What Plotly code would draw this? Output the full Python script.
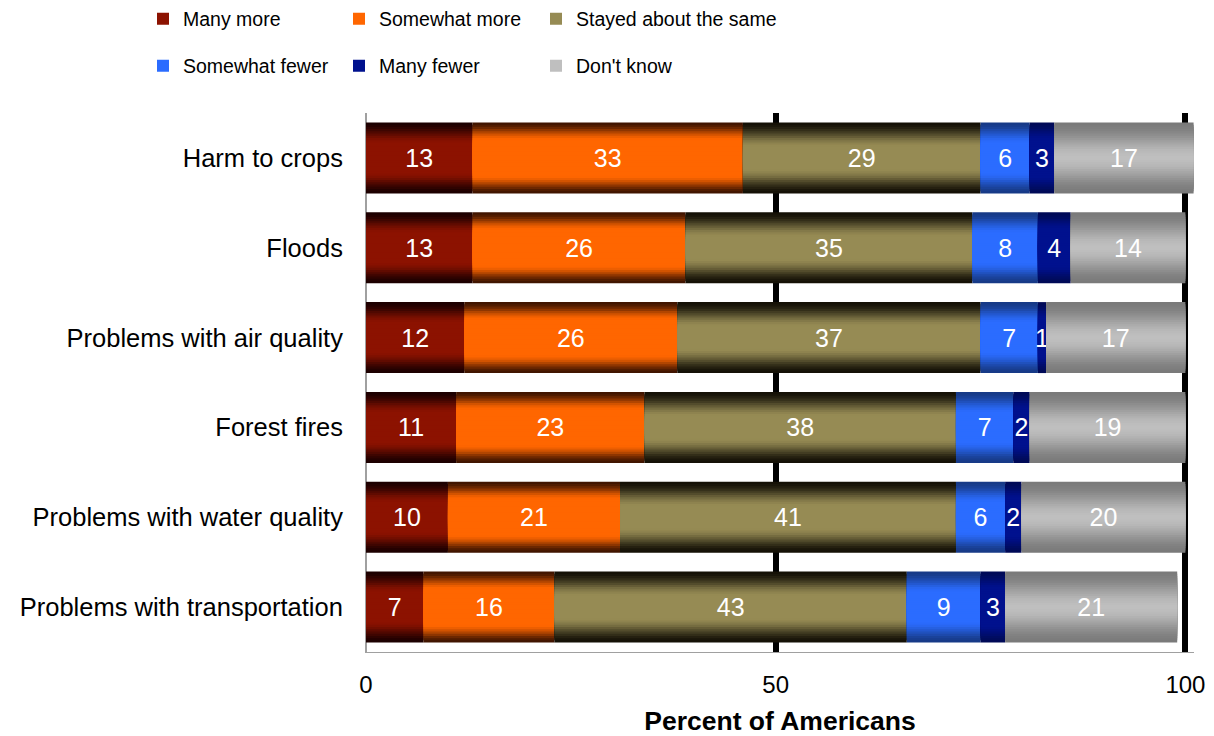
import plotly.graph_objects as go

# ---------------- data ----------------
categories = [
    "Harm to crops",
    "Floods",
    "Problems with air quality",
    "Forest fires",
    "Problems with water quality",
    "Problems with transportation",
]
series_names = [
    "Many more",
    "Somewhat more",
    "Stayed about the same",
    "Somewhat fewer",
    "Many fewer",
    "Don't know",
]
many_more = [13, 13, 12, 11, 10, 7]
somewhat_more = [33, 26, 26, 23, 21, 16]
stayed_same = [29, 35, 37, 38, 41, 43]
somewhat_fewer = [6, 8, 7, 7, 6, 9]
many_fewer = [3, 4, 1, 2, 2, 3]
dont_know = [17, 14, 17, 19, 20, 21]
x_ticks = [0, 50, 100]
x_title = "Percent of Americans"

series_values = [many_more, somewhat_more, stayed_same,
                 somewhat_fewer, many_fewer, dont_know]

# ---------------- styles ----------------
MID = ["#8c1200", "#ff6600", "#968b54", "#2b6cff", "#00118e", "#bfbfbf"]
EDGE = ["#1c0000", "#3f1400", "#141006", "#173a86", "#000a56", "#7a7a7a"]
SPAN = [0.6, 0.5, 0.7, 0.6, 0.5, 1.0]
N_LAYERS = 16
BAR_W = 0.79
FONT = "Liberation Sans, Arial, sans-serif"
# the page body adds an 8px offset, so the figure is 8px smaller
W_PX, H_PX = 1206, 728
LEG_X = [135, 331, 528]      # legend column positions (px, figure coords)
LEG_Y = [11, 58]             # legend row centres (px, figure coords)


def hex2rgb(h):
    h = h.lstrip("#")
    return [int(h[i:i + 2], 16) for i in (0, 2, 4)]


def lerp(c1, c2, t):
    a, b = hex2rgb(c1), hex2rgb(c2)
    return "rgb({},{},{})".format(*[round(a[i] + (b[i] - a[i]) * t) for i in range(3)])


def legend_id(i):
    return "legend" if i == 0 else "legend{}".format(i + 1)


fig = go.Figure()
cum = [0] * len(categories)
for s, (name, vals) in enumerate(zip(series_names, series_values)):
    base = cum[:]
    # gradient built from stacked layers of shrinking thickness
    for k in range(N_LAYERS):
        d = (k + 0.5) / N_LAYERS
        t = min(1.0, d / SPAN[s])
        t = t * t * (3 - 2 * t)
        fig.add_trace(go.Bar(
            y=categories, x=vals, base=base, orientation="h",
            width=BAR_W * (1 - k / N_LAYERS),
            marker=dict(color=lerp(EDGE[s], MID[s], t), line=dict(width=0)),
            name=name, legend=legend_id(s), showlegend=(k == N_LAYERS - 1),
            hoverinfo="skip", cliponaxis=False,
        ))
    # value labels
    fig.add_trace(go.Bar(
        y=categories, x=vals, base=base, orientation="h", width=BAR_W,
        marker=dict(color="rgba(0,0,0,0)", line=dict(width=0)),
        text=[str(v) for v in vals], textposition="inside",
        insidetextanchor="middle", textangle=0, constraintext="none",
        textfont=dict(color="white", size=25, family=FONT),
        showlegend=False, hoverinfo="skip", cliponaxis=False,
    ))
    cum = [c + v for c, v in zip(cum, vals)]

legends = {}
for i in range(len(series_names)):
    legends[legend_id(i)] = dict(
        orientation="h", xref="container", yref="container",
        x=LEG_X[i % 3] / W_PX, y=1 - LEG_Y[i // 3] / H_PX,
        xanchor="left", yanchor="middle",
        font=dict(family=FONT, size=19.5, color="black"),
        itemwidth=30, bgcolor="rgba(0,0,0,0)",
    )

fig.update_layout(
    width=W_PX, height=H_PX,
    barmode="overlay",
    plot_bgcolor="white", paper_bgcolor="white",
    margin=dict(l=358, r=20, t=105, b=84, autoexpand=False),
    font=dict(family=FONT, size=24, color="black"),
    xaxis=dict(
        range=[0, 101.05], tickvals=x_ticks, ticks="",
        showgrid=True, gridcolor="black", gridwidth=6,
        zeroline=True, zerolinecolor="#a0a0a0", zerolinewidth=1,
        showline=True, linecolor="#a0a0a0", linewidth=1,
        tickfont=dict(size=24), ticklabelstandoff=11,
        title=dict(text="<b>" + x_title + "</b>", font=dict(size=26.5), standoff=19),
    ),
    yaxis=dict(
        categoryorder="array", categoryarray=categories,
        range=[5.5, -0.5], showgrid=False, zeroline=False,
        showline=True, linecolor="#a0a0a0", linewidth=1,
        ticks="", tickfont=dict(size=25.5), ticklabelstandoff=17,
    ),
    **legends,
)

fig.write_html("out.html")
